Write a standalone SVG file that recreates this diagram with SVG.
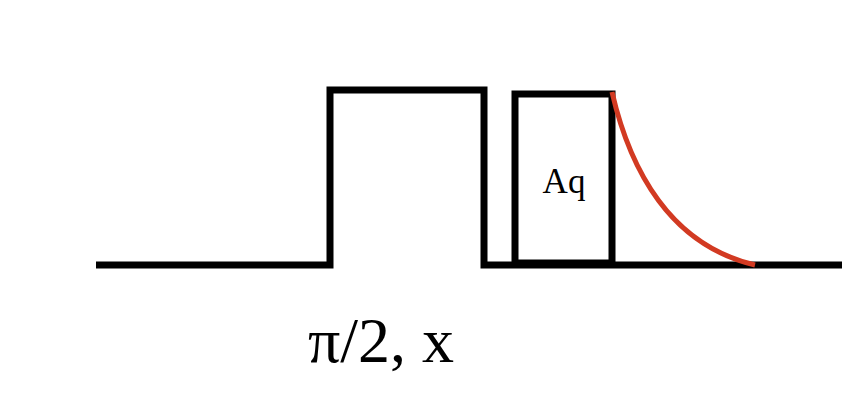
<svg xmlns="http://www.w3.org/2000/svg" width="842" height="416" viewBox="0 0 842 416">
<style>.k{fill:none;stroke:#000;stroke-width:7;stroke-linejoin:miter}.t{font-family:"Liberation Serif",serif;fill:#000}</style>
<rect width="842" height="416" fill="#fff"/>
<polyline class="k" points="96,265 330,265 330,90 484,90 484,265 842,265"/>
<rect class="k" x="515" y="94" width="97" height="169"/>
<path d="M612,92 C630,170 670,245 755,265" fill="none" stroke="#d23a22" stroke-width="5"/>
<text class="t" x="564" y="193" font-size="35" text-anchor="middle">Aq</text>
<text class="t" x="381" y="362" font-size="64" text-anchor="middle">π/2, x</text>
</svg>
